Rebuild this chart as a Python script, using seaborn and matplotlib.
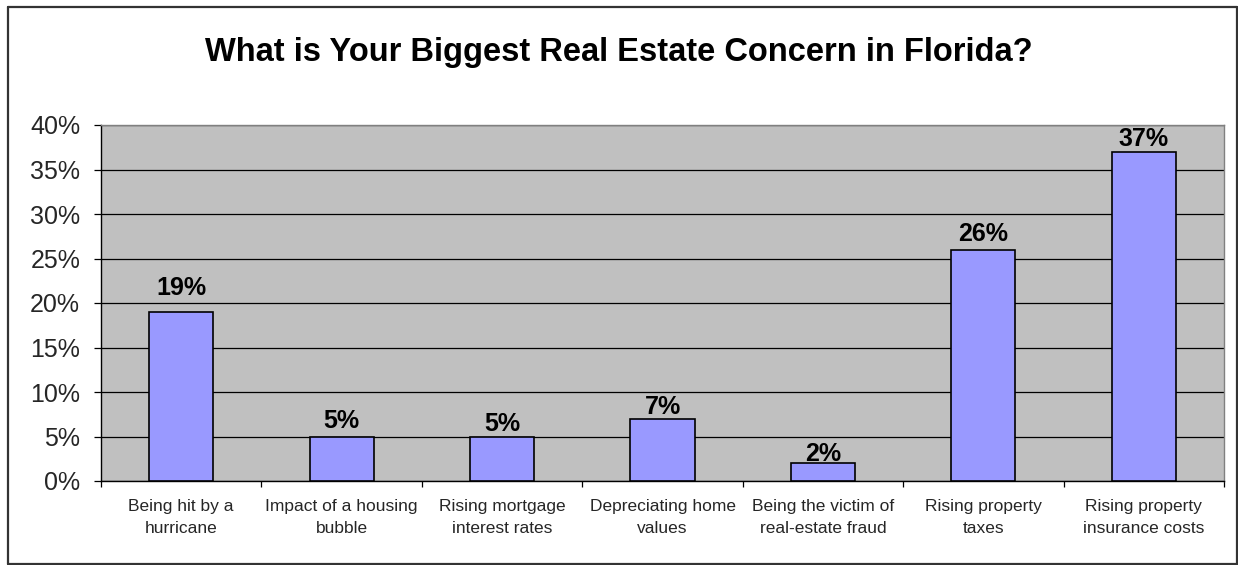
import matplotlib
matplotlib.use("Agg")
import matplotlib.pyplot as plt
import seaborn as sns
import pandas as pd
from matplotlib.lines import Line2D

categories = [
    "Being hit by a\nhurricane",
    "Impact of a housing\nbubble",
    "Rising mortgage\ninterest rates",
    "Depreciating home\nvalues",
    "Being the victim of\nreal-estate fraud",
    "Rising property\ntaxes",
    "Rising property\ninsurance costs",
]
shares = [19, 5, 5, 7, 2, 26, 37]
y_ticks = [0, 5, 10, 15, 20, 25, 30, 35, 40]
title = "What is Your Biggest Real Estate Concern in Florida?"

# gap (points) between each bar top and the baseline of its value label
label_gaps = [12, 6.3, 4.3, 3.6, 1.7, 6, 4.1]

sns.set_theme(style="white")
plt.rcParams["font.family"] = ["Liberation Sans", "DejaVu Sans"]

W, H = 1238, 565
fig = plt.figure(figsize=(W / 100, H / 100), dpi=100)
fig.patch.set_facecolor("white")

# outer chart frame
for xs, ys in [((8, 8), (7, 564)), ((8, 1237), (7, 7)), ((8, 1237), (564, 564)), ((1237, 1237), (7, 564))]:
    fig.add_artist(Line2D([x / W for x in xs], [1 - y / H for y in ys],
                          color="#333333", lw=1.6, transform=fig.transFigure))

left, right, top, bottom = 101, 1224, 125, 481
ax = fig.add_axes([left / W, 1 - bottom / H, (right - left) / W, (bottom - top) / H])
ax.set_facecolor("#C0C0C0")

df = pd.DataFrame({"concern": categories, "share": shares})
sns.barplot(data=df, x="concern", y="share", color="#9999FF", saturation=1,
            edgecolor="black", linewidth=1.2, width=0.4, ax=ax, zorder=3)

ax.set_xlim(-0.5, len(categories) - 0.5)
ax.set_ylim(0, 40)
ax.set_yticks(y_ticks)
ax.set_yticklabels([f"{v}%" for v in y_ticks], fontsize=18)
ax.yaxis.grid(True, color="black", lw=0.9)
ax.xaxis.grid(False)
ax.set_axisbelow(True)
ax.tick_params(axis="y", which="major", direction="out", length=5, width=0.9,
               color="black", pad=10, left=True)

# category labels centred under bars, ticks on the boundaries between them
ax.set_xticks(range(len(categories)))
ax.set_xticklabels(categories, fontsize=12.5, linespacing=1.6)
ax.tick_params(axis="x", which="major", length=0, pad=13)
ax.set_xticks([i - 0.5 for i in range(len(categories) + 1)], minor=True)
ax.tick_params(axis="x", which="minor", direction="out", length=4, width=0.9,
               color="black", bottom=True)

ax.set_xlabel("")
ax.set_ylabel("")

for side in ["left", "bottom"]:
    ax.spines[side].set_color("black")
    ax.spines[side].set_linewidth(1.0)
for side in ["top", "right"]:
    ax.spines[side].set_color("#808080")
    ax.spines[side].set_linewidth(1.0)

for i, (v, gap) in enumerate(zip(shares, label_gaps)):
    ax.annotate(f"{v}%", (i, v), xytext=(0, gap), textcoords="offset points",
                ha="center", va="baseline", fontsize=18, fontweight="bold",
                color="black", zorder=5)

fig.text(0.5, 1 - 52 / H, title, ha="center", va="center",
         fontsize=23.5, fontweight="bold", color="black")

fig.savefig("out.png", dpi=100)
